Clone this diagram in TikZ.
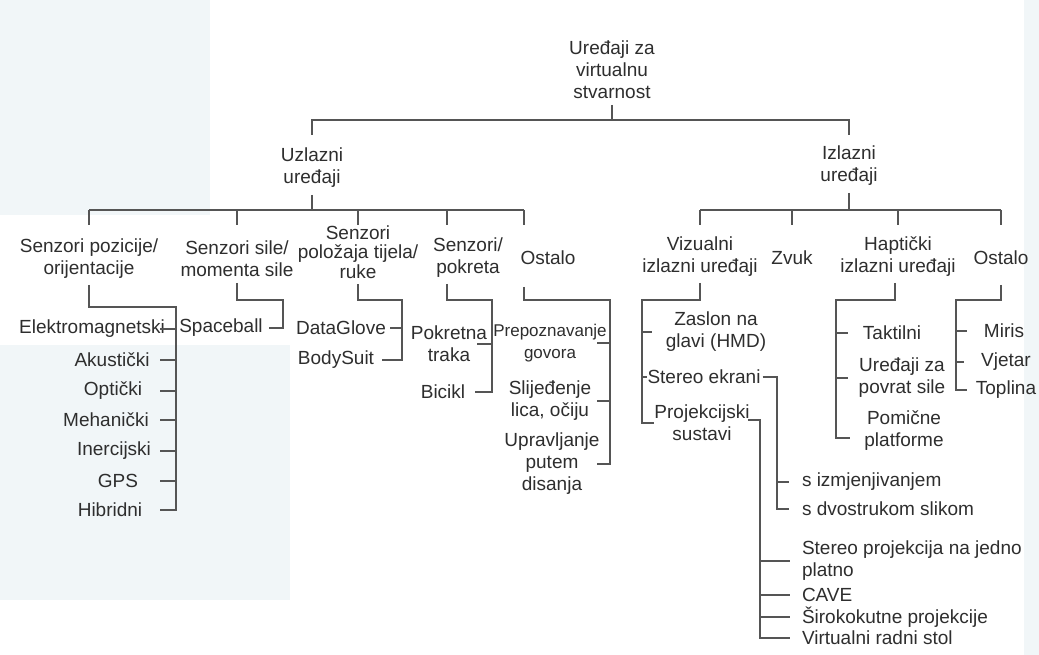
\documentclass[tikz,border=0pt]{standalone}
\usepackage{fontspec}
\setmainfont{Liberation Sans}
\definecolor{ink}{HTML}{2E2E2E}
\definecolor{wirec}{HTML}{555555}
\definecolor{tint}{HTML}{F1F6F8}
\begin{document}
\begin{tikzpicture}[x=1pt,y=-1pt,
  lbl/.style={inner sep=0pt, outer sep=0pt, align=center, text=ink, font=\fontsize{19}{22}\selectfont},
  lleft/.style={lbl, align=left, anchor=west},
  wire/.style={draw=wirec, line width=1.1pt}]
\useasboundingbox (0,0) rectangle (1039,655);
\fill[white] (0,0) rectangle (1039,655);
\fill[tint] (0,0) rectangle (210,215);
\fill[tint] (0,345) rectangle (290,600);
\fill[tint] (1024,0) rectangle (1039,655);

% ---------- nodes ----------
\node[lbl] (root) at (612,70) {Uređaji za\\virtualnu\\stvarnost};
\node[lbl] (uz) at (312,168) {Uzlazni\\uređaji};
\node[lbl] (iz) at (849,166) {Izlazni\\uređaji};

\node[lbl] (spo) at (89,259) {Senzori pozicije/\\orijentacije};
\node[lbl] (ssi) at (237,259) {Senzori sile/\\momenta sile};
\node[lbl, font=\fontsize{19}{19.5}\selectfont] (spt) at (358,252) {Senzori\\položaja tijela/\\ruke};
\node[lbl] (spk) at (468,258) {Senzori/\\pokreta};
\node[lbl] (ost1) at (548,258) {Ostalo};

\node[lbl] (viz) at (700,257) {Vizualni\\izlazni uređaji};
\node[lbl] (zv) at (792,258) {Zvuk};
\node[lbl] (hap) at (898,257) {Haptički\\izlazni uređaji};
\node[lbl] (ost2) at (1001,258) {Ostalo};

\node[lbl] (el) at (92,329) {Elektromagnetski};
\node[lbl] (ak) at (112,360) {Akustički};
\node[lbl] (op) at (113,391) {Optički};
\node[lbl] (me) at (106,420) {Mehanički};
\node[lbl] (in) at (114,451) {Inercijski};
\node[lbl] (gps) at (118,481) {GPS};
\node[lbl] (hib) at (110,510) {Hibridni};

\node[lbl] (sb) at (221,328) {Spaceball};
\node[lbl] (dg) at (341,328) {DataGlove};
\node[lbl] (bs) at (336,360) {BodySuit};
\node[lbl] (pt) at (449,344) {Pokretna\\traka};
\node[lbl] (bi) at (443,392) {Bicikl};
\node[lbl, font=\fontsize{17}{22}\selectfont] (pg) at (550,343) {Prepoznavanje\\govora};
\node[lbl] (sl) at (550,401) {Slijeđenje\\lica, očiju};
\node[lbl] (up) at (552,464) {Upravljanje\\putem\\disanja};

\node[lbl] (zas) at (716,332) {Zaslon na\\glavi (HMD)};
\node[lbl] (ste) at (704,377) {Stereo ekrani};
\node[lbl] (pro) at (702,423) {Projekcijski\\sustavi};
\node[lleft] (izm) at (802,482) {s izmjenjivanjem};
\node[lleft] (dvo) at (802,509) {s dvostrukom slikom};
\node[lleft] (spp) at (802,561) {Stereo projekcija na jedno\\platno};
\node[lleft] (cave) at (802,595) {CAVE};
\node[lleft] (sir) at (802,617) {Širokokutne projekcije};
\node[lleft] (vrs) at (802,638) {Virtualni radni stol};

\node[lbl] (tak) at (892,333) {Taktilni};
\node[lbl] (ure) at (902,378) {Uređaji za\\povrat sile};
\node[lbl] (pom) at (904,431) {Pomične\\platforme};

\node[lbl] (mir) at (1004,331) {Miris};
\node[lbl] (vje) at (1006,362) {Vjetar};
\node[lbl] (top) at (1006,390) {Toplina};

% ---------- bus coordinates ----------
\coordinate (b0) at (612,120);
\coordinate (b1) at (312,210);
\coordinate (b2) at (849,210);
\coordinate (spkd) at ([xshift=-21pt]spk.north);
\coordinate (ost1d) at ([xshift=-24pt]ost1.north);
\coordinate (c1) at (176,307);
\coordinate (c2) at (283,300);
\coordinate (c3) at (402,300);
\coordinate (c4) at (492,300);
\coordinate (c5) at (610,300);
\coordinate (c6) at (642,300);
\coordinate (c7) at (777,377);
\coordinate (c8) at (760,420);
\coordinate (c9) at (836,300);
\coordinate (c9e) at (836,438);
\coordinate (c10) at (956,300);

% ---------- connectors ----------
\draw[wire] (root.south) ++(0,6) -- (root |- b0);
\draw[wire] (uz |- b0) ++(0,15) -- (uz |- b0) -- (iz |- b0) -- ++(0,15);

\draw[wire] (uz.south) ++(0,7) -- (uz |- b1);
\draw[wire] (b1 -| spo) -- (b1 -| ost1d);
\foreach \n in {spo,ssi,spt,spkd,ost1d} \draw[wire] (b1 -| \n) -- ++(0,15);

\draw[wire] (iz.south) ++(0,7) -- (iz |- b2);
\draw[wire] (b2 -| viz) -- (b2 -| ost2);
\foreach \n in {viz,zv,hap,ost2} \draw[wire] (b2 -| \n) -- ++(0,15);

% Senzori pozicije
\draw[wire] (spo.south) ++(0,6) |- (c1) -- (c1 |- hib) -- ++(-16,0);
\foreach \n in {el,ak,op,me,in,gps} \draw[wire] (c1 |- \n) -- ++(-16,0);
% Senzori sile
\draw[wire] (ssi.south) ++(0,6) |- (c2) -- (c2 |- sb) -- ++(-14,0);
% Senzori polozaja
\draw[wire] (spt.south) ++(0,6) |- (c3) -- (c3 |- bs) -- ++(-20,0);
\draw[wire] (c3 |- dg) -- ++(-12,0);
% Senzori pokreta
\draw[wire] (spkd |- spk.south) ++(0,6) |- (c4) -- (c4 |- bi) -- ++(-17,0);
\draw[wire] (c4 |- pt) -- ++(-15,0);
% Ostalo (ulaz)
\draw[wire] (ost1d |- ost1.south) ++(0,22) |- (c5) -- (c5 |- up) -- ++(-13,0);
\draw[wire] (c5 |- pg) -- ++(-13,0);
\draw[wire] (c5 |- sl) -- ++(-13,0);

% Vizualni
\draw[wire] (viz.south) ++(0,6) |- (c6) -- (c6 |- pro) -- ++(12,0);
\draw[wire] (c6 |- zas) -- ++(10,0);
\draw[wire] (c6 |- ste) -- ++(5,0);
% Stereo ekrani
\draw[wire] (ste.east) ++(2,0) -- (c7) -- (c7 |- dvo) -- ++(12,0);
\draw[wire] (c7 |- izm) -- ++(12,0);
% Projekcijski sustavi
\draw[wire] (c8) ++(-12,0) -- (c8) -- (c8 |- vrs) -- ++(30,0);
\foreach \n in {spp,cave,sir} \draw[wire] (c8 |- \n) -- ++(30,0);
% Hapticki
\draw[wire] (hap.south) ++(-3,6) |- (c9) -- (c9e) -- ++(14,0);
\draw[wire] (c9 |- tak) -- ++(12,0);
\draw[wire] (c9 |- ure) -- ++(12,0);
% Ostalo (izlaz)
\draw[wire] (ost2.south) ++(0,20) |- (c10) -- (c10 |- top) -- ++(11,0);
\draw[wire] (c10 |- mir) -- ++(11,0);
\draw[wire] (c10 |- vje) -- ++(8,0);
\end{tikzpicture}
\end{document}
